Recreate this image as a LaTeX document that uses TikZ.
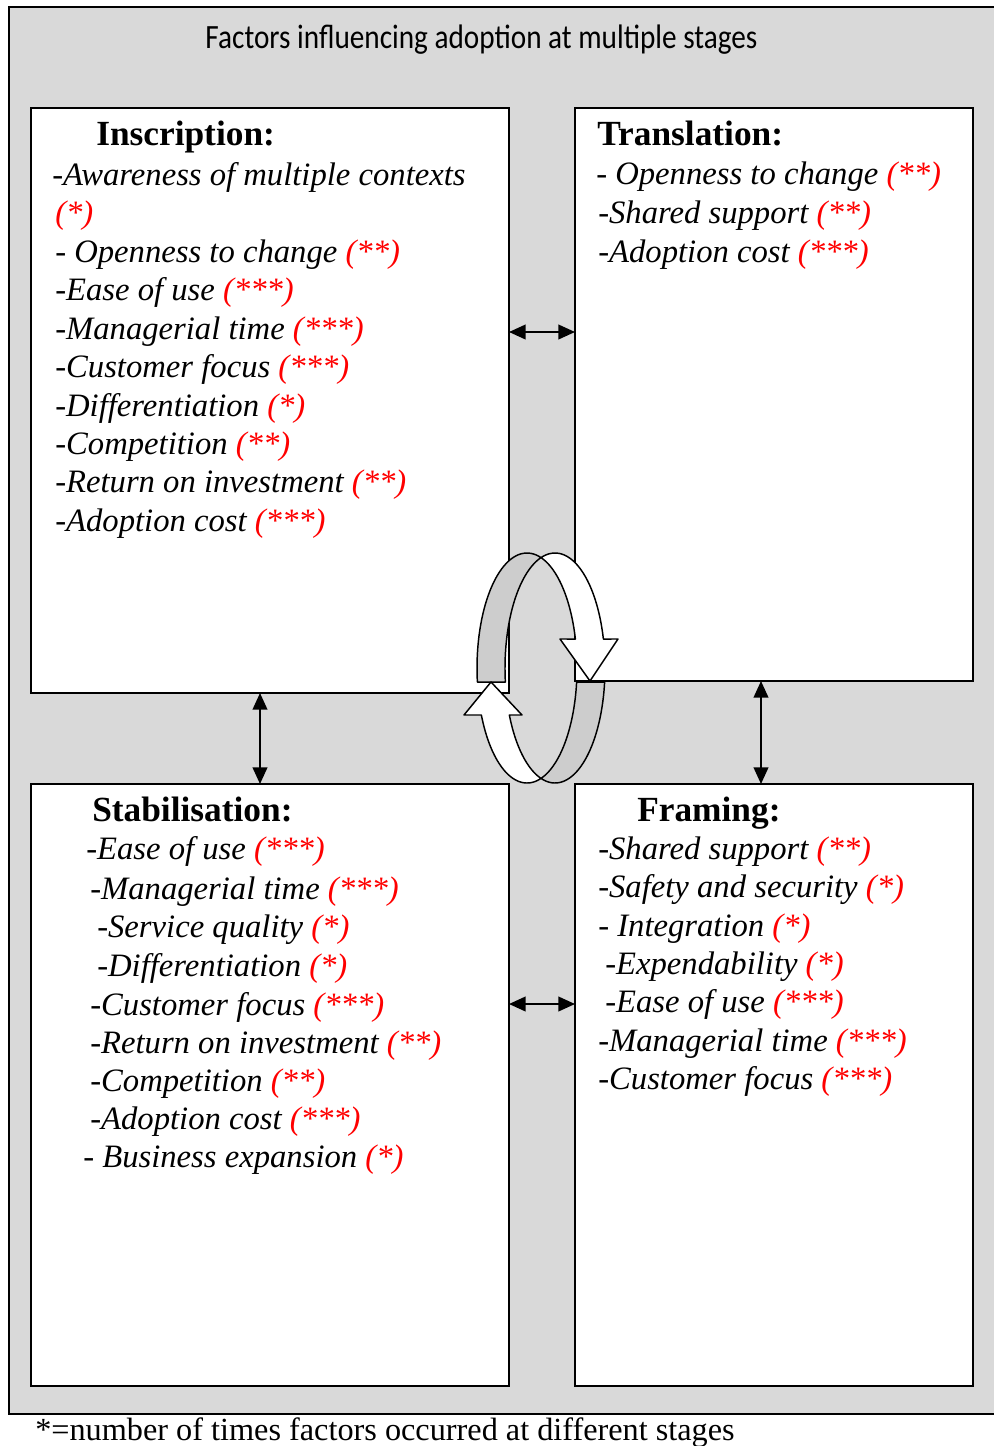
\documentclass[tikz,border=0pt]{standalone}
\usepackage{fontspec}
\setmainfont{Liberation Serif}
\newfontfamily\titlefont{Carlito}
\usetikzlibrary{arrows.meta}
\definecolor{bg}{HTML}{D9D9D9}
\definecolor{band}{HTML}{CDCDCD}
\definecolor{markred}{HTML}{FF0000}
\newcommand{\rs}[1]{\textcolor{markred}{(#1)}}
\begin{document}
\begin{tikzpicture}[x=0.75pt,y=-0.75pt,
  stagebox/.style={draw=black, line width=1.2pt, fill=white, inner sep=0pt, outer sep=0pt, anchor=north west},
  itemtxt/.style={anchor=base west, inner sep=0pt, font=\fontsize{24.5}{29}\selectfont\itshape},
  headtxt/.style={anchor=base west, inner sep=0pt, font=\fontsize{26.5}{30}\selectfont\bfseries},
  biarrow/.style={line width=1.5pt, {Triangle[length=12.5pt,width=11pt]}-{Triangle[length=12.5pt,width=11pt]}},
  ribbon/.style={draw=black, line width=1.1pt, line join=round}
]
\useasboundingbox (0,0) rectangle (993,1446);
% background panel
\draw[line width=1.6pt, fill=bg] (9,7) rectangle (1010,1414);
\node[anchor=base, inner sep=0pt] (title) at (481.5,48.5) {\scalebox{0.86}[1]{\titlefont\fontsize{25.5}{30}\selectfont Factors influencing adoption at multiple stages}};

% stage boxes
\node[stagebox, minimum width=358.5pt, minimum height=438.75pt] (ins) at (31,108) {};
\node[stagebox, minimum width=298.5pt, minimum height=429.75pt] (tra) at (575,108) {};
\node[stagebox, minimum width=358.5pt, minimum height=451.5pt] (sta) at (31,784) {};
\node[stagebox, minimum width=298.5pt, minimum height=451.5pt] (fra) at (575,784) {};

% connectors
\coordinate (yA) at (0,332);
\coordinate (yB) at (0,1004);
\coordinate (xL) at (260,0);
\coordinate (xR) at (761,0);
\draw[biarrow] (ins.east |- yA) -- (tra.west |- yA);
\draw[biarrow] (sta.east |- yB) -- (fra.west |- yB);
\draw[biarrow] (ins.south -| xL) -- (sta.north -| xL);
\draw[biarrow] (tra.south -| xR) -- (fra.north -| xR);

% Inscription
\node[headtxt] (h1) at (96,145) {Inscription:};
\node[itemtxt] (i1) at (52,185) {-Awareness of multiple contexts};
\node[itemtxt] (i2) at (55,223.5) {\rs{*}};
\node[itemtxt] (i3) at (55,262) {- Openness to change \rs{**}};
\node[itemtxt] (i4) at (55,300.5) {-Ease of use \rs{***}};
\node[itemtxt] (i5) at (55,339) {-Managerial time \rs{***}};
\node[itemtxt] (i6) at (55,377) {-Customer focus \rs{***}};
\node[itemtxt] (i7) at (55,416) {-Differentiation \rs{*}};
\node[itemtxt] (i8) at (55,454.5) {-Competition \rs{**}};
\node[itemtxt] (i9) at (55,492.5) {-Return on investment \rs{**}};
\node[itemtxt] (i10) at (55,531) {-Adoption cost \rs{***}};

% Translation
\node[headtxt] (h2) at (597,145) {Translation:};
\node[itemtxt] (t1) at (596,184.5) {- Openness to change \rs{**}};
\node[itemtxt] (t2) at (598,223) {-Shared support \rs{**}};
\node[itemtxt] (t3) at (598,262) {-Adoption cost \rs{***}};

% Stabilisation
\node[headtxt] (h3) at (92,821) {Stabilisation:};
\node[itemtxt] (s1) at (86,859) {-Ease of use \rs{***}};
\node[itemtxt] (s2) at (90,899) {-Managerial time \rs{***}};
\node[itemtxt] (s3) at (97,937.5) {-Service quality \rs{*}};
\node[itemtxt] (s4) at (97,976) {-Differentiation \rs{*}};
\node[itemtxt] (s5) at (90,1015) {-Customer focus \rs{***}};
\node[itemtxt] (s6) at (90,1053) {-Return on investment \rs{**}};
\node[itemtxt] (s7) at (90,1091) {-Competition \rs{**}};
\node[itemtxt] (s8) at (90,1129.5) {-Adoption cost \rs{***}};
\node[itemtxt] (s9) at (83,1167.5) {- Business expansion \rs{*}};

% Framing
\node[headtxt] (h4) at (637,821) {Framing:};
\node[itemtxt] (f1) at (598,859) {-Shared support \rs{**}};
\node[itemtxt] (f2) at (598,897.5) {-Safety and security \rs{*}};
\node[itemtxt] (f3) at (598,936) {- Integration \rs{*}};
\node[itemtxt] (f4) at (605,974.5) {-Expendability \rs{*}};
\node[itemtxt] (f5) at (605,1012.5) {-Ease of use \rs{***}};
\node[itemtxt] (f6) at (598,1051) {-Managerial time \rs{***}};
\node[itemtxt] (f7) at (598,1089) {-Customer focus \rs{***}};

% circular arrow (two offset ellipses)
% top-left grey band
\filldraw[ribbon, fill=band]
  plot[domain=173:286.26, samples=40, variable=\t] ({527+50*cos(\t)},{668+115*sin(\t)})
  -- plot[domain=253.74:173, samples=40, variable=\t] ({555+50*cos(\t)},{668+115*sin(\t)})
  -- cycle;
% top-right white band with arrowhead
\filldraw[ribbon, fill=white]
  plot[domain=253.74:345.4, samples=40, variable=\t] ({555+50*cos(\t)},{668+115*sin(\t)})
  -- (618,639) -- (590,681) -- (560,639)
  -- plot[domain=345.4:286.26, samples=40, variable=\t] ({527+50*cos(\t)},{668+115*sin(\t)})
  -- cycle;
% bottom-right grey band
\filldraw[ribbon, fill=band]
  plot[domain=7:106.26, samples=40, variable=\t] ({555+50*cos(\t)},{668+115*sin(\t)})
  -- plot[domain=73.74:7, samples=40, variable=\t] ({527+50*cos(\t)},{668+115*sin(\t)})
  -- cycle;
% bottom-left white band with arrowhead
\filldraw[ribbon, fill=white]
  plot[domain=73.74:155.88, samples=40, variable=\t] ({527+50*cos(\t)},{668+115*sin(\t)})
  -- (464,715) -- (491,682) -- (522,715)
  -- plot[domain=155.88:106.26, samples=40, variable=\t] ({555+50*cos(\t)},{668+115*sin(\t)})
  -- cycle;

% footnote
\node[anchor=base west, inner sep=0pt, font=\fontsize{24.2}{28}\selectfont] (note) at (35,1440) {*=number of times factors occurred at different stages};
\end{tikzpicture}
\end{document}
